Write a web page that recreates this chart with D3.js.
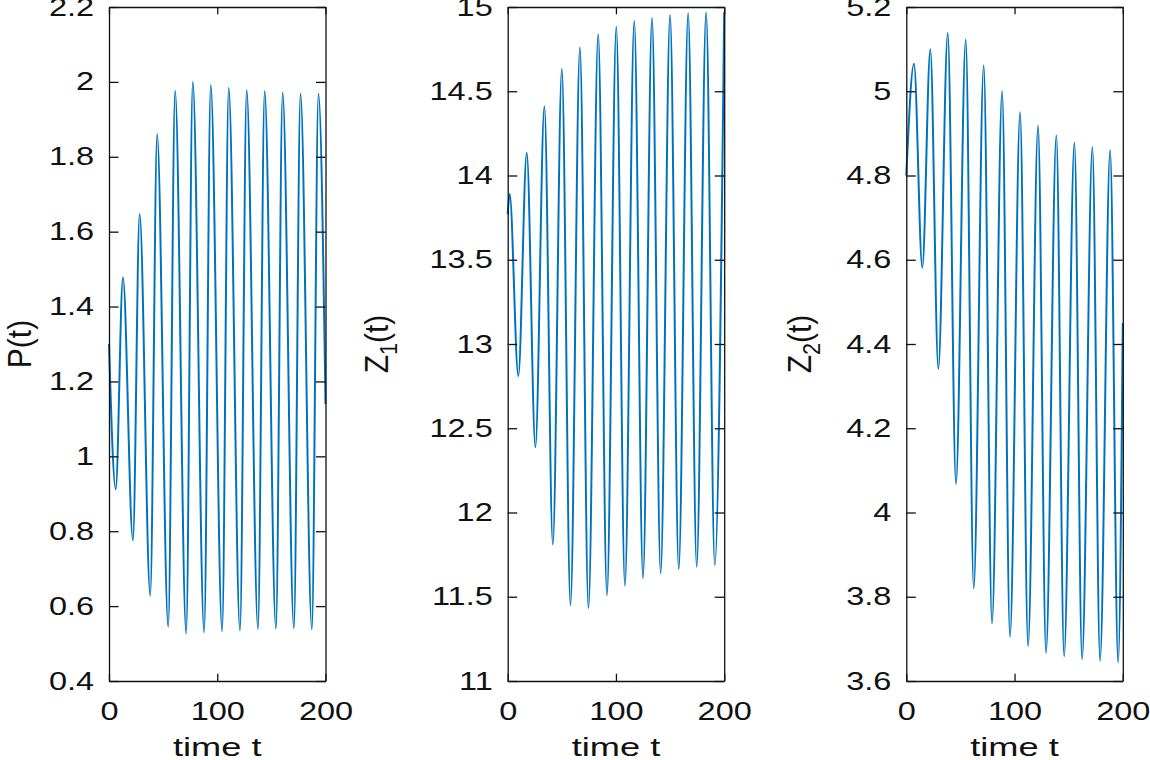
<!DOCTYPE html>
<html>
<head>
<meta charset="utf-8">
<script src="https://cdn.jsdelivr.net/npm/d3@7"></script>
<style>
body { margin: 0; background: #fff; }
svg { display: block; }
text { font-family: "Liberation Sans", Arial, Helvetica, sans-serif; font-size: 25px; fill: #111; }
</style>
</head>
<body>
<svg id="chart" width="1150" height="760"></svg>
<script>
// time axis (shared)
var timeDomain = [0, 200];
var timeTicks = [0, 100, 200];

// P(t): turning points
var pTime = [0, 6.2, 12.9, 22.1, 28.3, 38.1, 44.5, 54.7, 61.1, 71.3, 77.4, 87.9, 94.0, 104.5,
	110.6, 121.0, 127.2, 137.6, 143.8, 154.2, 160.4, 170.8, 176.9, 187.4, 193.5, 200];
var pValue = [1.30, 0.912, 1.478, 0.776, 1.647, 0.628, 1.86, 0.545, 1.976, 0.527, 2.0, 0.530, 1.991, 0.533,
	1.984, 0.535, 1.978, 0.539, 1.975, 0.540, 1.971, 0.541, 1.968, 0.538, 1.968, 1.14];
var pTicks = [0.4, 0.6, 0.8, 1, 1.2, 1.4, 1.6, 1.8, 2, 2.2];

// Z1(t)
var z1Time = [0, 1.8, 9.8, 17.6, 25.6, 33.9, 41.7, 50, 58, 66.7, 74.6, 83.6, 91.7, 100.3,
	108.3, 116.9, 125, 133.3, 141.3, 150, 158, 166.7, 174.6, 183.3, 191.3, 200];
var z1Value = [13.77, 13.89, 12.81, 14.135, 12.387, 14.41, 11.81, 14.632, 11.45, 14.76, 11.433, 14.838, 11.51, 14.883,
	11.566, 14.917, 11.61, 14.935, 11.64, 14.953, 11.663, 14.963, 11.678, 14.968, 11.688, 14.97];
var z1Ticks = [11, 11.5, 12, 12.5, 13, 13.5, 14, 14.5, 15];

// Z2(t)
var z2Time = [0, 7.1, 14.8, 22.2, 29.6, 38.3, 45.9, 54.9, 62.3, 71.5, 79.2, 88.5, 95.8, 105.1,
	112.5, 121.7, 129.1, 138.6, 145.8, 155.3, 162.4, 171.9, 179, 188.3, 195.7, 200];
var z2Value = [4.80, 5.065, 4.581, 5.10, 4.341, 5.138, 4.068, 5.123, 3.82, 5.061, 3.737, 5.0, 3.705, 4.95,
	3.683, 4.918, 3.667, 4.895, 3.659, 4.878, 3.652, 4.867, 3.648, 4.86, 3.644, 4.45];
var z2Ticks = [3.6, 3.8, 4, 4.2, 4.4, 4.6, 4.8, 5, 5.2];

var panels = [
	{ name: 'P', sub: '', time: pTime, value: pValue, ticks: pTicks, labelGap: 11 },
	{ name: 'Z', sub: '1', time: z1Time, value: z1Value, ticks: z1Ticks, labelGap: 27 },
	{ name: 'Z', sub: '2', time: z2Time, value: z2Value, ticks: z2Ticks, labelGap: 21 }
];

var lefts = [109, 507.7, 906.3];
var plotWidth = 216.5;
var plotTop = 7, plotBottom = 681;
var stretch = 1.3; // glyphs in the picture are wider than the font
var axisColor = '#111';

var svg = d3.select('svg#chart');

panels.forEach(function (p, i) {
	var x0 = lefts[i];
	var xScale = d3.scaleLinear().domain(timeDomain).range([x0, x0 + plotWidth]);
	var yScale = d3.scaleLinear().domain(d3.extent(p.ticks)).range([plotBottom, plotTop]);

	var g = svg.append('g');

	var line = d3.line()
		.x(function (d) { return xScale(d[0]); })
		.y(function (d) { return yScale(d[1]); })
		.curve(d3.curveMonotoneX);

	g.append('path')
		.datum(d3.zip(p.time, p.value))
		.attr('d', line)
		.attr('fill', 'none')
		.attr('stroke', '#0072BD')
		.attr('stroke-width', 2);

	var yLeft = g.append('g')
		.attr('transform', 'translate(' + x0 + ',0)')
		.call(d3.axisLeft(yScale).tickValues(p.ticks).tickFormat(d3.format('~g'))
			.tickSizeInner(-9.5).tickSizeOuter(0).tickPadding(11.5));

	g.append('g')
		.attr('transform', 'translate(' + (x0 + plotWidth) + ',0)')
		.call(d3.axisRight(yScale).tickValues(p.ticks).tickFormat('')
			.tickSizeInner(-9.5).tickSizeOuter(0));

	g.append('g')
		.attr('transform', 'translate(0,' + plotTop + ')')
		.call(d3.axisTop(xScale).tickValues(timeTicks).tickFormat('')
			.tickSizeInner(-7.3).tickSizeOuter(0));

	g.append('g')
		.attr('transform', 'translate(0,' + plotBottom + ')')
		.call(d3.axisBottom(xScale).tickValues(timeTicks).tickFormat(d3.format('d'))
			.tickSizeInner(-7.3).tickSizeOuter(0).tickPadding(21));

	g.selectAll('.domain, .tick line')
		.attr('stroke', axisColor)
		.attr('stroke-width', 1.3);

	g.selectAll('.tick text')
		.attr('transform', 'scale(' + stretch + ',1)');

	// x label
	g.append('text')
		.attr('transform', 'translate(' + (x0 + plotWidth / 2) + ',756) scale(1.45,1)')
		.style('text-anchor', 'middle')
		.text('time t');

	// y label, placed left of the tick labels
	var tickLeft = d3.min(yLeft.selectAll('text').nodes(), function (n) {
		return n.getBoundingClientRect().left;
	});
	var midY = (plotTop + plotBottom) / 2;
	var label = g.append('text')
		.style('text-anchor', 'middle');
	label.append('tspan').text(p.name);
	if (p.sub) {
		label.append('tspan').text(p.sub).style('font-size', '18px').attr('dy', 7);
		label.append('tspan').text('(t)').attr('dy', -7);
	} else {
		label.append('tspan').text('(t)');
	}
	var rot = ' rotate(-90) scale(1.2,1.3)';
	label.attr('transform', 'translate(0,' + midY + ')' + rot);
	var right = label.node().getBoundingClientRect().right;
	label.attr('transform', 'translate(' + (tickLeft - p.labelGap - right) + ',' + midY + ')' + rot);
});
</script>
</body>
</html>
